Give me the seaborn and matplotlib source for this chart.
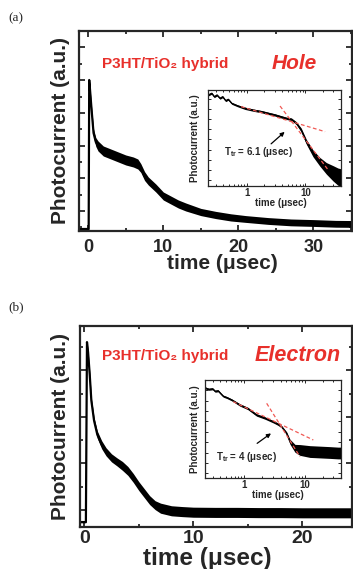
import matplotlib
matplotlib.use('Agg')
import matplotlib.pyplot as plt
import seaborn as sns
from matplotlib.ticker import MultipleLocator, LogLocator, FixedLocator, NullFormatter

# ---- datos (unidades arbitrarias, eje y 0-10) ----
# (a) huecos, curva principal
t_hole = [-1.3, 0.05, 0.12, 0.18, 0.44, 0.7, 1.0, 1.3, 2.0, 3.0, 4.0, 5.0, 6.0, 6.6, 7.0, 7.5,
          8.0, 9.0, 10.0, 11.0, 12.0, 13.0, 15.0, 17.0, 19.0, 21.0, 24.0, 27.0, 30.0, 33.0, 36.0]
pc_hole = [0.1, 0.1, 7.55, 7.3, 6.05, 4.9, 4.45, 4.25, 4.0, 3.85, 3.7, 3.55, 3.45, 3.35, 3.15, 2.75,
           2.5, 2.15, 1.75, 1.55, 1.35, 1.2, 0.95, 0.8, 0.68, 0.6, 0.5, 0.43, 0.4, 0.36, 0.35]
noise_hole = [0.03, 0.03, 0.05, 0.1, 0.15, 0.2, 0.22, 0.25, 0.25, 0.25, 0.25, 0.25, 0.25, 0.25, 0.22, 0.22,
              0.2, 0.2, 0.2, 0.2, 0.2, 0.2, 0.18, 0.18, 0.18, 0.17, 0.17, 0.17, 0.17, 0.17, 0.17]

# (a) inserto log-log
t_hole_in = [0.221, 0.253, 0.280, 0.311, 0.350, 0.389, 0.438, 0.485, 0.555, 0.70, 0.94, 1.30, 1.80,
             2.40, 3.04, 3.80, 4.74, 5.80, 7.0, 8.5, 10.4, 13.5, 17.6, 22.8, 29.7, 36.0, 40.0]
pc_hole_in = [9.48, 9.66, 9.30, 9.48, 9.14, 9.30, 8.89, 9.03, 8.61, 8.35, 8.09, 7.90, 7.74,
              7.55, 7.40, 7.22, 7.05, 6.95, 6.55, 5.83, 4.60, 3.40, 2.53, 1.84, 1.32, 0.97, 0.9]
noise_hole_in = [0.1, 0.1, 0.1, 0.1, 0.1, 0.1, 0.1, 0.1, 0.1, 0.1, 0.12, 0.12, 0.12,
                 0.12, 0.12, 0.12, 0.12, 0.13, 0.15, 0.2, 0.25, 0.35, 0.45, 0.6, 0.8, 0.9, 0.9]
fit1_hole_t = [0.8, 21.7]
fit1_hole_v = [8.27, 5.66]
fit2_hole_t = [3.70, 25.0]
fit2_hole_v = [8.33, 1.6]

# (b) electrones, curva principal
t_elec = [-0.5, 0.15, 0.25, 0.35, 0.5, 0.65, 0.9, 1.2, 1.6, 2.0, 2.5, 3.0, 3.5, 4.0, 4.5, 5.0,
          5.5, 6.0, 6.5, 7.0, 8.0, 9.0, 10.0, 12.0, 14.0, 16.0, 18.0, 20.0, 22.0, 25.0]
pc_elec = [0.26, 0.26, 9.2, 8.7, 7.6, 6.3, 5.3, 4.6, 4.1, 3.75, 3.45, 3.25, 3.05, 2.8, 2.45, 2.05,
           1.7, 1.35, 1.1, 0.95, 0.82, 0.78, 0.75, 0.74, 0.74, 0.73, 0.73, 0.72, 0.72, 0.72]
noise_elec = [0.03, 0.03, 0.05, 0.1, 0.15, 0.15, 0.15, 0.18, 0.2, 0.2, 0.2, 0.2, 0.22, 0.22, 0.22, 0.22,
              0.22, 0.22, 0.22, 0.25, 0.25, 0.25, 0.25, 0.25, 0.25, 0.25, 0.25, 0.25, 0.25, 0.25]

# (b) inserto log-log
t_elec_in = [0.224, 0.26, 0.30, 0.33, 0.37, 0.41, 0.449, 0.52, 0.625, 0.849, 1.15, 1.60, 2.20,
             3.02, 3.6, 4.16, 5.03, 5.71, 6.91, 8.36, 12.2, 17.9, 26.2, 35.6, 40.0]
pc_elec_in = [9.2, 9.05, 9.1, 8.85, 8.9, 8.6, 8.35, 8.2, 7.96, 7.45, 7.09, 6.43, 6.12,
              5.74, 5.5, 5.23, 4.56, 3.70, 3.03, 2.86, 2.70, 2.65, 2.60, 2.55, 2.55]
noise_elec_in = [0.1, 0.1, 0.1, 0.1, 0.1, 0.1, 0.1, 0.1, 0.1, 0.12, 0.12, 0.12, 0.12,
                 0.12, 0.12, 0.12, 0.15, 0.25, 0.4, 0.55, 0.6, 0.6, 0.6, 0.6, 0.6]
fit1_elec_t = [0.658, 13.9]
fit1_elec_v = [7.79, 3.88]
fit2_elec_t = [2.35, 8.36]
fit2_elec_v = [7.62, 2.17]

RED = '#e8302b'
RED_FIT = '#f05a55'

sns.set_style('ticks')
plt.rcParams['font.family'] = ['Liberation Sans', 'DejaVu Sans']
plt.rcParams['font.weight'] = 'bold'
plt.rcParams['mathtext.fontset'] = 'custom'
plt.rcParams['mathtext.rm'] = 'Liberation Sans:bold'
plt.rcParams['mathtext.bf'] = 'Liberation Sans:bold'

W, H = 353, 569
fig = plt.figure(figsize=(W / 100, H / 100), dpi=100)


def rect(l, t, r, b):
    return [l / W, 1 - b / H, (r - l) / W, (b - t) / H]


def band(ax, t, v, hw, lw):
    lo = [a - b for a, b in zip(v, hw)]
    hi = [a + b for a, b in zip(v, hw)]
    ax.fill_between(t, lo, hi, color='black', lw=0)
    sns.lineplot(x=t, y=v, ax=ax, color='black', lw=lw, sort=False, estimator=None)


def main_style(ax, xlim, xmaj, ymaj, ymin, tick_fs, pad):
    ax.set_xlim(*xlim)
    ax.set_ylim(0, 10)
    ax.xaxis.set_major_locator(MultipleLocator(xmaj))
    ax.xaxis.set_minor_locator(MultipleLocator(xmaj / 2))
    ax.yaxis.set_major_locator(ymaj)
    ax.yaxis.set_minor_locator(ymin)
    ax.tick_params(which='both', direction='in', top=True, right=True, width=1.3,
                   labelleft=False, labelsize=tick_fs, pad=pad)
    ax.tick_params(which='major', length=4)
    ax.tick_params(which='minor', length=2.5)
    for s in ax.spines.values():
        s.set_linewidth(1.6)
    ax.set_ylabel('Photocurrent (a.u.)', fontsize=15, fontweight='bold')


def inset_style(ax, xlim, yticks, ylab_x, xlab_x, xlab_y):
    ax.set_xscale('log')
    ax.set_xlim(*xlim)
    ax.set_ylim(0, 10)
    ax.xaxis.set_major_locator(FixedLocator([1, 10]))
    ax.set_xticklabels(['1', '10'])
    ax.xaxis.set_minor_locator(LogLocator(base=10, subs=range(2, 10)))
    ax.xaxis.set_minor_formatter(NullFormatter())
    ax.yaxis.set_major_locator(FixedLocator(yticks))
    ax.tick_params(which='both', direction='in', top=True, right=True, width=0.7,
                   labelleft=False, labelsize=7, pad=1.5)
    ax.tick_params(which='major', length=2.5)
    ax.tick_params(which='minor', length=1.5)
    for s in ax.spines.values():
        s.set_linewidth(0.9)
    ax.set_ylabel('Photocurrent (a.u.)', fontsize=7, fontweight='bold')
    ax.yaxis.set_label_coords(ylab_x, 0.5)
    ax.set_xlabel('time (\u03bcsec)', fontsize=7, fontweight='bold')
    ax.xaxis.set_label_coords(xlab_x, xlab_y)


# ---------------- (a) Hole ----------------
ax1 = fig.add_axes(rect(79, 31, 352, 231))
band(ax1, t_hole, pc_hole, noise_hole, 1.6)
main_style(ax1, (-1.24, 35.16), 10, MultipleLocator(1.635, offset=1.0),
           MultipleLocator(0.8175, offset=0.1825), 13, 5.5)
ax1.yaxis.set_label_coords(-0.033, 0.5)
ax1.set_xlabel('time (\u03bcsec)', fontsize=15, fontweight='bold')
ax1.xaxis.set_label_coords(0.524, -0.115)

fig.text(8 / W, 1 - 18 / H, '(a)', family='Liberation Serif', fontweight='normal',
         fontsize=9.5, va='center')
fig.text(102 / W, 1 - 68.3 / H, 'P3HT/TiO\u2082 hybrid', color=RED, fontsize=11,
         fontweight='bold', va='baseline')
fig.text(272 / W, 1 - 69.3 / H, 'Hole', color=RED, fontsize=15, fontweight='bold',
         style='italic', va='baseline')

ins1 = fig.add_axes(rect(207.7, 90, 341.3, 186))
ins1.set_xscale('log')
band(ins1, t_hole_in, pc_hole_in, noise_hole_in, 0.9)
ins1.plot(fit1_hole_t, fit1_hole_v, color=RED_FIT, lw=0.9, dashes=(3, 2))
ins1.plot(fit2_hole_t, fit2_hole_v, color=RED_FIT, lw=0.9, dashes=(3, 2))
inset_style(ins1, (0.216, 41), [0.62 + 1.06 * k for k in range(9)], -0.054, 0.549, -0.128)
ins1.annotate('', xy=(4.81, 5.83), xytext=(2.40, 4.2),
              arrowprops=dict(arrowstyle='-|>', color='black', lw=0.9, mutation_scale=6))
ins1.text(1.56, 3.49, 'T$_{\\mathbf{tr}}$ = 6.1 (\u03bcsec)', fontsize=7, fontweight='bold',
          ha='center', va='center')

# ---------------- (b) Electron ----------------
ax2 = fig.add_axes(rect(80, 326, 352, 527.3))
band(ax2, t_elec, pc_elec, noise_elec, 1.6)
main_style(ax2, (-0.39, 24.56), 10, MultipleLocator(2.314, offset=0.86),
           MultipleLocator(1.157, offset=0.86), 14, 2)
ax2.yaxis.set_label_coords(-0.037, 0.5)
ax2.set_xlabel('time (\u03bcsec)', fontsize=17.5, fontweight='bold')
ax2.xaxis.set_label_coords(0.467, -0.096)

fig.text(8 / W, 1 - 307 / H, '(b)', family='Liberation Serif', fontweight='normal',
         fontsize=9.5, va='center')
fig.text(101.7 / W, 1 - 360 / H, 'P3HT/TiO\u2082 hybrid', color=RED, fontsize=11,
         fontweight='bold', va='baseline')
fig.text(255 / W, 1 - 361 / H, 'Electron', color=RED, fontsize=15.5, fontweight='bold',
         style='italic', va='baseline')

ins2 = fig.add_axes(rect(205, 380, 341.3, 478))
ins2.set_xscale('log')
band(ins2, t_elec_in, pc_elec_in, noise_elec_in, 0.9)
ins2.plot(fit1_elec_t, fit1_elec_v, color=RED_FIT, lw=0.9, dashes=(3, 2))
ins2.plot(fit2_elec_t, fit2_elec_v, color=RED_FIT, lw=0.9, dashes=(3, 2))
inset_style(ins2, (0.224, 40.4), [0.48 + 1.06 * k for k in range(9)], -0.037, 0.536, -0.122)
ins2.annotate('', xy=(3.02, 4.72), xytext=(1.50, 3.37),
              arrowprops=dict(arrowstyle='-|>', color='black', lw=0.9, mutation_scale=6))
ins2.text(1.09, 2.17, 'T$_{\\mathbf{tr}}$ = 4 (\u03bcsec)', fontsize=7, fontweight='bold',
          ha='center', va='center')

fig.savefig('out.png', dpi=100)
